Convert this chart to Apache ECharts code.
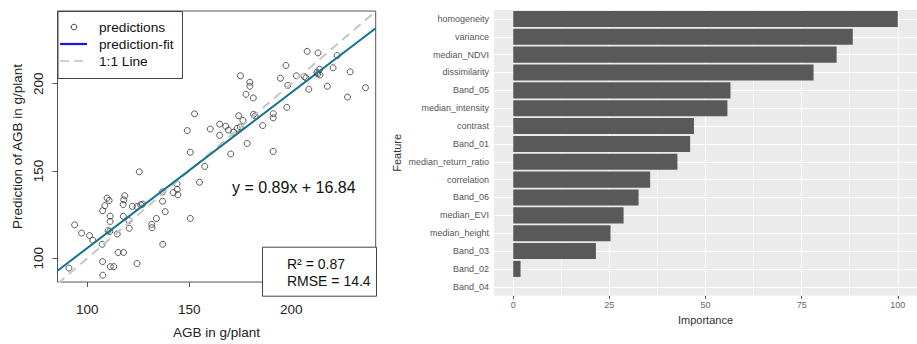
<!DOCTYPE html>
<html>
<head>
<meta charset="utf-8">
<script src="https://cdn.jsdelivr.net/npm/echarts@6/dist/echarts.min.js"></script>
<style>
html,body{margin:0;padding:0;background:#fff;}
#chart{width:917px;height:344px;}
</style>
</head>
<body>
<div id="chart"></div>
<script>
// ---------- Left panel: observed vs predicted AGB ----------
const agbObserved = [91.0,93.8,97.2,101.1,102.7,107.3,107.5,107.6,111.3,113.0,
  115.1,117.8,124.4,137.0,114.7,110.2,111.0,111.2,111.2,107.5,
  108.6,109.7,110.7,117.6,117.9,118.4,117.7,120.4,120.6,122.1,
  124.4,126.2,127.1,131.6,131.7,133.9,136.9,136.9,138.2,142.1,
  144.0,144.1,144.4,150.5,125.5,155.0,157.6,150.5,170.3,178.4,
  191.1,152.6,149.0,160.3,164.9,167.9,169.2,164.9,173.5,175.0,
  174.2,176.3,181.5,182.3,186.0,191.2,191.2,197.8,177.8,181.4,
  175.1,179.7,179.7,194.7,197.4,198.3,202.5,206.4,207.2,207.8,
  213.1,222.5,212.6,213.9,213.0,214.1,220.5,228.9,208.6,217.7,
  236.4,227.6,171.8];
const agbPredicted = [94.4,119.1,114.4,113.0,110.3,108.0,98.1,90.3,95.2,95.2,
  103.3,103.3,97.0,108.0,113.9,115.8,115.3,121.1,124.1,127.2,
  130.1,134.4,133.1,130.8,133.5,135.8,124.0,121.6,117.2,129.7,
  129.6,130.6,131.0,119.4,117.5,122.8,132.7,138.0,126.7,137.6,
  142.7,139.5,136.4,122.8,149.5,143.5,152.6,160.7,159.7,165.8,
  161.2,182.7,173.1,174.0,176.8,175.6,173.4,170.4,174.4,175.2,
  181.6,178.9,182.4,181.5,176.0,182.8,180.4,186.4,193.9,191.8,
  204.5,200.8,198.5,203.1,210.4,199.0,204.5,204.0,203.3,218.5,
  217.6,216.1,206.4,208.2,205.6,204.9,209.1,206.8,196.8,198.5,
  197.7,192.3,172.2];
const xLimits = [85.4, 241.4];
const yLimits = [86.4, 241.6];
const scatterTicks = [100, 150, 200];
const fitSlope = 0.89;
const fitIntercept = 16.84;
const fitText = 'y = 0.89x + 16.84';
const statsText = ['R\u00B2 = 0.87', 'RMSE = 14.4'];
const legendLabels = ['predictions', 'prediction-fit', '1:1 Line'];

// ---------- Right panel: feature importance ----------
const features = ['homogeneity','variance','median_NDVI','dissimilarity','Band_05',
  'median_intensity','contrast','Band_01','median_return_ratio','correlation',
  'Band_06','median_EVI','median_height','Band_03','Band_02','Band_04'];
const importance = [100, 88.3, 84.1, 78.1, 56.5, 55.7, 47.0, 46.0, 42.7, 35.6,
  32.6, 28.7, 25.3, 21.5, 1.9, 0];
const importanceTicks = [0, 25, 50, 75, 100];
const importanceMinor = [12.5, 37.5, 62.5, 87.5];

const pts = agbObserved.map((x, i) => [x, agbPredicted[i]]);
const fitLine = xLimits.map(x => [x, fitSlope * x + fitIntercept]);
const oneToOne = xLimits.map(x => [x, x]);

const FONT = 'Liberation Sans, Arial, sans-serif';
const chart = echarts.init(document.getElementById('chart'), null, {renderer: 'svg'});

const gridMarkLines = []
  .concat(importanceTicks.map(v => ({xAxis: v, lineStyle: {color: '#ffffff', width: 1.1, type: 'solid'}})))
  .concat(importanceMinor.map(v => ({xAxis: v, lineStyle: {color: '#ffffff', width: 0.5, type: 'solid'}})))
  .concat(features.map((f, i) => ({yAxis: i, lineStyle: {color: '#ffffff', width: 1.1, type: 'solid'}})));

const LX = 57.5, LY = 11;
chart.setOption({
  animation: false,
  textStyle: {fontFamily: FONT},
  grid: [
    {left: 57.5, top: 11, width: 318.2, height: 284.7, show: true, borderColor: '#555', borderWidth: 1, backgroundColor: 'transparent'},
    {left: 494, top: 10, width: 434, height: 285.7, show: true, borderWidth: 0, backgroundColor: '#EBEBEB'}
  ],
  xAxis: [
    {type: 'value', gridIndex: 0, min: xLimits[0], max: xLimits[1],
     name: 'AGB in g/plant', nameLocation: 'middle', nameGap: 43,
     nameTextStyle: {fontSize: 13.5, color: '#222', fontFamily: FONT},
     axisLine: {show: false}, splitLine: {show: false},
     axisTick: {show: true, inside: false, length: 5, customValues: scatterTicks, lineStyle: {color: '#555'}},
     axisLabel: {customValues: scatterTicks, fontSize: 13.5, color: '#222', margin: 20, fontFamily: FONT}},
    {type: 'value', gridIndex: 1, min: -5, max: 105,
     name: 'Importance', nameLocation: 'middle', nameGap: 17,
     nameTextStyle: {fontSize: 11, color: '#333', fontFamily: FONT},
     axisLine: {show: false}, splitLine: {show: false},
     axisTick: {show: true, length: 3, customValues: importanceTicks, lineStyle: {color: '#444'}},
     axisLabel: {customValues: importanceTicks, fontSize: 9, color: '#666', margin: 5, fontFamily: FONT}}
  ],
  yAxis: [
    {type: 'value', gridIndex: 0, min: yLimits[0], max: yLimits[1],
     name: 'Prediction of AGB in g/plant', nameLocation: 'middle', nameGap: 33, nameRotate: 90,
     nameTextStyle: {fontSize: 13.5, color: '#222', fontFamily: FONT},
     axisLine: {show: false}, splitLine: {show: false},
     axisTick: {show: true, inside: false, length: 5, customValues: scatterTicks, lineStyle: {color: '#555'}},
     axisLabel: {customValues: scatterTicks, rotate: 90, fontSize: 13.5, color: '#222', margin: 12, fontFamily: FONT}},
    {type: 'category', gridIndex: 1, data: features, inverse: true,
     name: 'Feature', nameLocation: 'middle', nameGap: 92, nameRotate: 90,
     nameTextStyle: {fontSize: 11, color: '#333', fontFamily: FONT},
     axisLine: {show: false}, splitLine: {show: false},
     axisTick: {show: true, alignWithLabel: true, length: 3, lineStyle: {color: '#444'}},
     axisLabel: {fontSize: 9, color: '#555', margin: 5, fontFamily: FONT}}
  ],
  series: [
    {type: 'scatter', xAxisIndex: 0, yAxisIndex: 0, data: pts, symbol: 'circle', symbolSize: 6,
     itemStyle: {color: 'rgba(0,0,0,0)', borderColor: '#333', borderWidth: 1}, z: 2},
    {type: 'line', xAxisIndex: 0, yAxisIndex: 0, data: oneToOne, symbol: 'none', clip: true,
     lineStyle: {color: '#c6c6c6', width: 2, type: [9, 6]}, z: 3},
    {type: 'line', xAxisIndex: 0, yAxisIndex: 0, data: fitLine, symbol: 'none', clip: true,
     lineStyle: {color: '#13708f', width: 2}, z: 4},
    {type: 'line', xAxisIndex: 1, yAxisIndex: 1, data: [], symbol: 'none', z: 1,
     markLine: {silent: true, symbol: 'none', label: {show: false}, animation: false, z: 1, data: gridMarkLines}},
    {type: 'bar', xAxisIndex: 1, yAxisIndex: 1, data: importance, barWidth: '90%',
     itemStyle: {color: '#595959'}, z: 20}
  ],
  graphic: [
    // legend box
    {type: 'rect', left: LX, top: LY, shape: {width: 124.5, height: 67}, style: {fill: '#fff', stroke: '#444', lineWidth: 1}, z: 30},
    {type: 'circle', shape: {cx: 74, cy: 27, r: 2.8}, style: {fill: 'none', stroke: '#333', lineWidth: 1}, z: 31},
    {type: 'line', shape: {x1: 60, y1: 44, x2: 87, y2: 44}, style: {stroke: '#1515e6', lineWidth: 2.2}, z: 31},
    {type: 'line', shape: {x1: 60, y1: 61, x2: 87, y2: 61}, style: {stroke: '#cfcfcf', lineWidth: 2, lineDash: [9, 5]}, z: 31},
    {type: 'text', left: 99, top: 20, style: {text: legendLabels[0], font: '13.7px ' + FONT, fill: '#111'}, z: 31},
    {type: 'text', left: 99, top: 37, style: {text: legendLabels[1], font: '13.7px ' + FONT, fill: '#111'}, z: 31},
    {type: 'text', left: 99, top: 54, style: {text: legendLabels[2], font: '13.7px ' + FONT, fill: '#111'}, z: 31},
    // equation
    {type: 'text', left: 232, top: 179.5, style: {text: fitText, font: '16px ' + FONT, fill: '#111'}, z: 31},
    // stats box
    {type: 'rect', left: 262, top: 246.7, shape: {width: 114, height: 49}, style: {fill: '#fff', stroke: '#444', lineWidth: 1}, z: 30},
    {type: 'text', left: 287, top: 257, style: {text: statsText[0], font: '14px ' + FONT, fill: '#111'}, z: 31},
    {type: 'text', left: 287, top: 274, style: {text: statsText[1], font: '14px ' + FONT, fill: '#111'}, z: 31}
  ]
});
</script>
</body>
</html>
